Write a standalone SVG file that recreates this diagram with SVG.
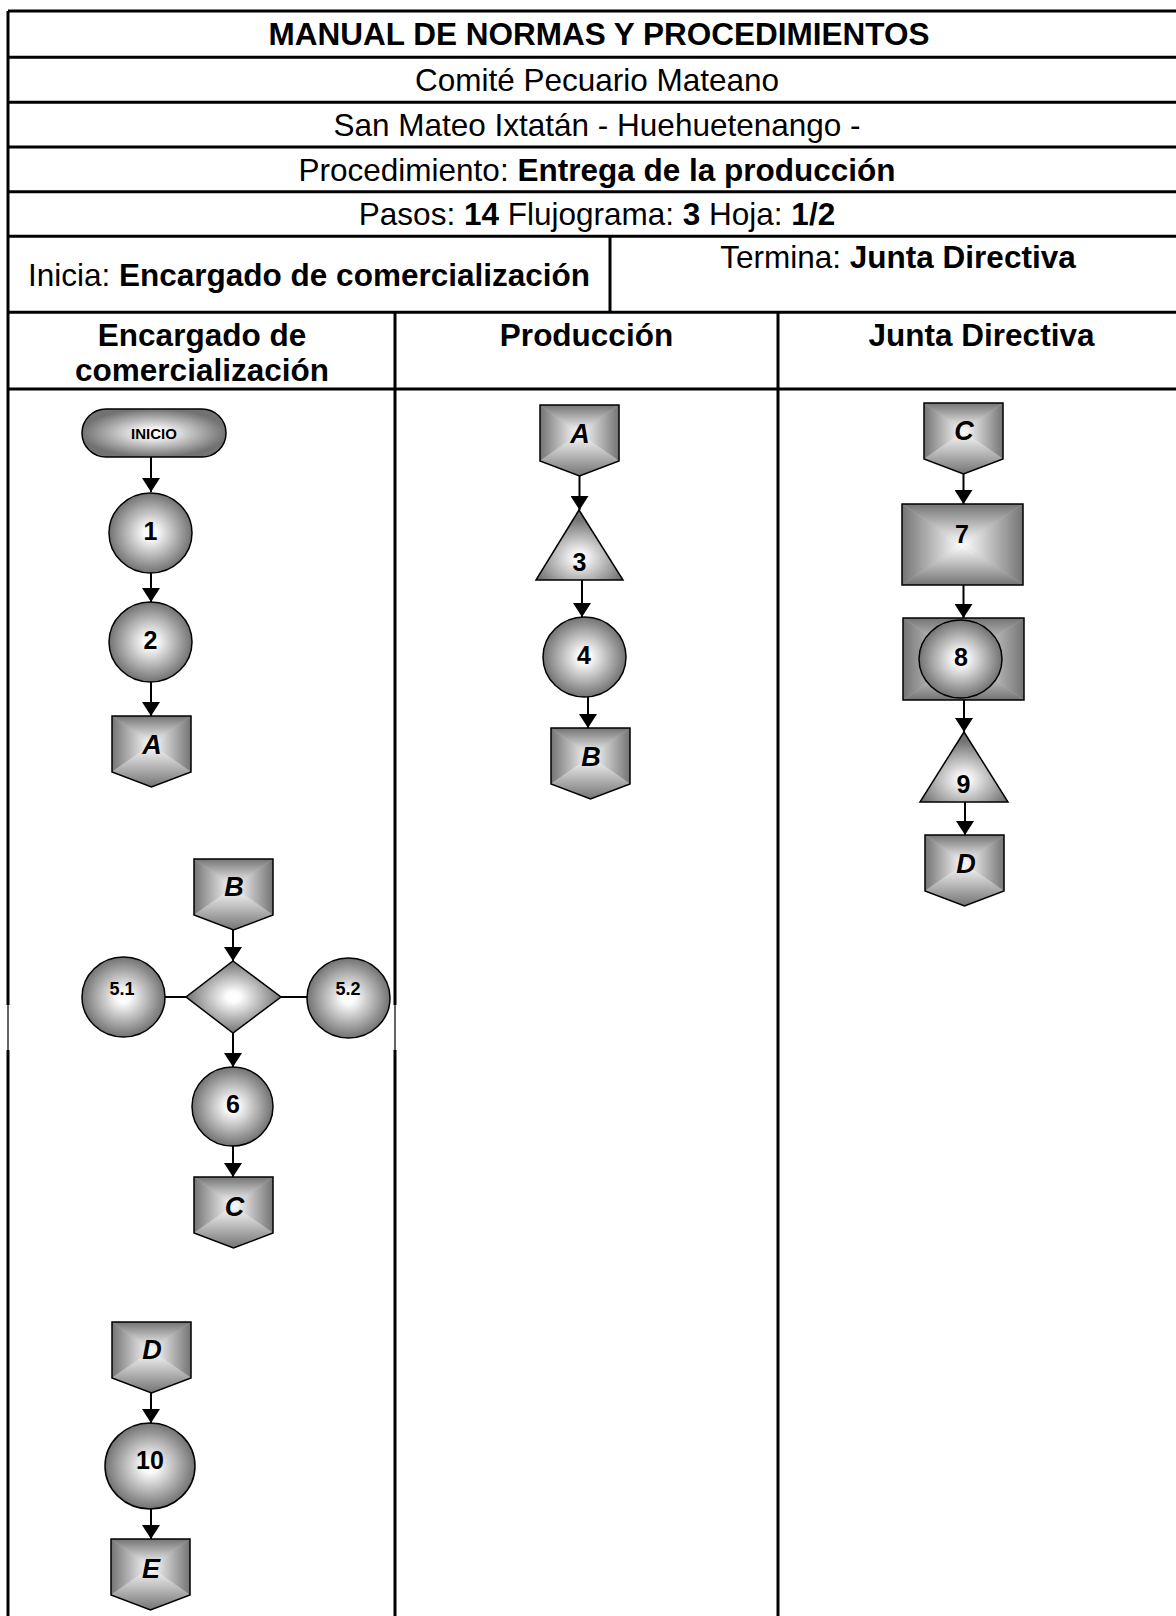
<svg xmlns="http://www.w3.org/2000/svg" xmlns:xlink="http://www.w3.org/1999/xlink" width="1176" height="1616" viewBox="0 0 1176 1616">
<style>
.t{font-family:"Liberation Sans",Arial,sans-serif;fill:#000}
.h{font-size:31.5px;text-anchor:middle}
.b{font-weight:bold}
.n{font-size:25px;font-weight:bold;text-anchor:middle}
.s{font-size:18px;font-weight:bold;text-anchor:middle}
.i{font-size:15px;font-weight:bold;text-anchor:middle}
.l{font-size:27px;font-weight:bold;font-style:italic;text-anchor:middle}
.grid{stroke:#000;stroke-width:3;fill:none}
.ol{stroke:#000;stroke-width:1.5}
.con{stroke:#000;stroke-width:2;fill:none}
</style>
<defs>
<radialGradient id="gc" cx="50%" cy="50%" r="50%"><stop offset="0" stop-color="#ffffff"/><stop offset="0.15" stop-color="#fcfcfc"/><stop offset="1" stop-color="#727272"/></radialGradient>
<radialGradient id="gtri" cx="50%" cy="68%" r="55%"><stop offset="0" stop-color="#ffffff"/><stop offset="0.1" stop-color="#fcfcfc"/><stop offset="1" stop-color="#727272"/></radialGradient>
<linearGradient id="gT" x1="0" y1="0" x2="0" y2="1"><stop offset="0" stop-color="#747474"/><stop offset="1" stop-color="#ffffff"/></linearGradient>
<linearGradient id="gB" x1="0" y1="0" x2="0" y2="1"><stop offset="0" stop-color="#ffffff"/><stop offset="1" stop-color="#747474"/></linearGradient>
<linearGradient id="gL" x1="0" y1="0" x2="1" y2="0"><stop offset="0" stop-color="#747474"/><stop offset="1" stop-color="#ffffff"/></linearGradient>
<linearGradient id="gR" x1="0" y1="0" x2="1" y2="0"><stop offset="0" stop-color="#ffffff"/><stop offset="1" stop-color="#747474"/></linearGradient>
<marker id="ah" markerUnits="userSpaceOnUse" markerWidth="14" markerHeight="18" refX="14" refY="9" orient="auto" viewBox="0 0 14 18"><path d="M0,0L14,9L0,18Z" fill="#000"/></marker>
<g id="pent">
<path d="M0,0H79V56L39.5,71L0,56Z" fill="#b8b8b8"/>
<polygon points="0,0 79,0 39.5,28" fill="url(#gT)"/>
<polygon points="0,0 0,56 39.5,28" fill="url(#gL)"/>
<polygon points="79,0 79,56 39.5,28" fill="url(#gR)"/>
<polygon points="0,56 39.5,71 79,56 39.5,28" fill="url(#gB)"/>
<path d="M0,0H79V56L39.5,71L0,56Z" fill="none" class="ol"/>
</g>
</defs>
<rect x="0" y="0" width="1176" height="1616" fill="#fff"/>

<g id="table">
<path class="grid" d="M8,11H1180M8,57.3H1180M8,102.3H1180M8,147H1180M8,191.7H1180M8,236.3H1180M8,312.3H1180M8,389H1180"/>
<path class="grid" d="M8,11V1005M8,1050V1616M610,236.3V312.3M395,312.3V1005M395,1050V1616M778,312.3V1616"/>
<path d="M8,1005V1050M395,1005V1050" stroke="#000" stroke-width="1.2"/>
<text class="t h b" x="599" y="45">MANUAL DE NORMAS Y PROCEDIMIENTOS</text>
<text class="t h" x="597" y="90.5">Comité Pecuario Mateano</text>
<text class="t h" x="597" y="135.5">San Mateo Ixtatán - Huehuetenango -</text>
<text class="t h" x="597" y="180.5">Procedimiento: <tspan class="b">Entrega de la producción</tspan></text>
<text class="t h" x="597" y="225">Pasos: <tspan class="b">14</tspan> Flujograma: <tspan class="b">3</tspan> Hoja: <tspan class="b">1/2</tspan></text>
<text class="t h" x="309" y="285.5">Inicia: <tspan class="b">Encargado de comercialización</tspan></text>
<text class="t h" x="898" y="267.5">Termina: <tspan class="b">Junta Directiva</tspan></text>
<text class="t h b" x="202" y="345.5">Encargado de</text>
<text class="t h b" x="202" y="380.5">comercialización</text>
<text class="t h b" x="586.5" y="345.5">Producción</text>
<text class="t h b" x="981.5" y="345.5">Junta Directiva</text>
</g>

<g id="connectors">
<path class="con" marker-end="url(#ah)" d="M151,457V492"/>
<path class="con" marker-end="url(#ah)" d="M151,573V602"/>
<path class="con" marker-end="url(#ah)" d="M151,682V716"/>
<path class="con" marker-end="url(#ah)" d="M233,929V961"/>
<path class="con" marker-end="url(#ah)" d="M233,1033V1067"/>
<path class="con" marker-end="url(#ah)" d="M233,1146V1177"/>
<path class="con" marker-end="url(#ah)" d="M151,1392V1423"/>
<path class="con" marker-end="url(#ah)" d="M151,1509V1539"/>
<path class="con" d="M165,997H186M281,997H307"/>
<path class="con" marker-end="url(#ah)" d="M579.5,475V510"/>
<path class="con" marker-end="url(#ah)" d="M582,580V617"/>
<path class="con" marker-end="url(#ah)" d="M588,697V728"/>
<path class="con" marker-end="url(#ah)" d="M963.5,472V504"/>
<path class="con" marker-end="url(#ah)" d="M963.5,585V618"/>
<path class="con" marker-end="url(#ah)" d="M964,700V732"/>
<path class="con" marker-end="url(#ah)" d="M965,802V835"/>
</g>

<g id="inicio">
<rect x="82" y="409" width="144" height="48" rx="24" fill="url(#gc)" class="ol"/>
<text class="t i" x="154" y="439">INICIO</text>
</g>
<g id="n1">
<ellipse cx="150.5" cy="533" rx="41.5" ry="40" fill="url(#gc)" class="ol"/>
<text class="t n" x="150.5" y="539.5">1</text>
</g>
<g id="n2">
<ellipse cx="150.5" cy="642" rx="41.5" ry="40" fill="url(#gc)" class="ol"/>
<text class="t n" x="150.5" y="648.5">2</text>
</g>
<g id="conA1">
<use xlink:href="#pent" href="#pent" x="112" y="716"/>
<text class="t l" x="152" y="754">A</text>
</g>
<g id="conB1">
<use xlink:href="#pent" href="#pent" x="194" y="859"/>
<text class="t l" x="234" y="896">B</text>
</g>
<g id="decision">
<polygon points="233,961 281,997 233,1033 186,997" fill="url(#gc)" class="ol"/>
</g>
<g id="n51">
<ellipse cx="123.5" cy="997" rx="41.5" ry="40" fill="url(#gc)" class="ol"/>
<text class="t s" x="122" y="994.5">5.1</text>
</g>
<g id="n52">
<ellipse cx="348.5" cy="998" rx="41.5" ry="40" fill="url(#gc)" class="ol"/>
<text class="t s" x="348" y="994.5">5.2</text>
</g>
<g id="n6">
<ellipse cx="232.5" cy="1106.5" rx="40.5" ry="39.5" fill="url(#gc)" class="ol"/>
<text class="t n" x="233" y="1113">6</text>
</g>
<g id="conC1">
<use xlink:href="#pent" href="#pent" x="194" y="1177"/>
<text class="t l" x="234.5" y="1215.5">C</text>
</g>
<g id="conD1">
<use xlink:href="#pent" href="#pent" x="112" y="1322"/>
<text class="t l" x="152" y="1359">D</text>
</g>
<g id="n10">
<ellipse cx="150" cy="1466" rx="45" ry="43" fill="url(#gc)" class="ol"/>
<text class="t n" x="150" y="1469">10</text>
</g>
<g id="conE1">
<use xlink:href="#pent" href="#pent" x="111" y="1539"/>
<text class="t l" x="151" y="1577.5">E</text>
</g>

<g id="conA2">
<use xlink:href="#pent" href="#pent" x="540" y="405"/>
<text class="t l" x="580" y="443">A</text>
</g>
<g id="n3">
<polygon points="579,510 623,580 536,580" fill="url(#gtri)" class="ol"/>
<text class="t n" x="579.5" y="571">3</text>
</g>
<g id="n4">
<ellipse cx="584.5" cy="657" rx="41.5" ry="40" fill="url(#gc)" class="ol"/>
<text class="t n" x="584" y="664">4</text>
</g>
<g id="conB2">
<use xlink:href="#pent" href="#pent" x="551" y="728"/>
<text class="t l" x="591" y="766">B</text>
</g>

<g id="conC3">
<use xlink:href="#pent" href="#pent" x="924" y="403"/>
<text class="t l" x="964" y="440">C</text>
</g>
<g id="n7">
<rect x="902" y="504" width="121" height="81" fill="#b8b8b8"/>
<polygon points="902,504 1023,504 962.5,544.5" fill="url(#gT)"/>
<polygon points="902,504 902,585 962.5,544.5" fill="url(#gL)"/>
<polygon points="1023,504 1023,585 962.5,544.5" fill="url(#gR)"/>
<polygon points="902,585 1023,585 962.5,544.5" fill="url(#gB)"/>
<rect x="902" y="504" width="121" height="81" fill="none" class="ol"/>
<text class="t n" x="962" y="543">7</text>
</g>
<g id="n8">
<rect x="903" y="618" width="121" height="82" fill="#b8b8b8"/>
<polygon points="903,618 1024,618 963.5,659" fill="url(#gT)"/>
<polygon points="903,618 903,700 963.5,659" fill="url(#gL)"/>
<polygon points="1024,618 1024,700 963.5,659" fill="url(#gR)"/>
<polygon points="903,700 1024,700 963.5,659" fill="url(#gB)"/>
<rect x="903" y="618" width="121" height="82" fill="none" class="ol"/>
<ellipse cx="960.5" cy="659" rx="41.5" ry="39" fill="url(#gc)" class="ol"/>
<text class="t n" x="961" y="666">8</text>
</g>
<g id="n9">
<polygon points="964,732 1008,802 920,802" fill="url(#gtri)" class="ol"/>
<text class="t n" x="963.5" y="793">9</text>
</g>
<g id="conD3">
<use xlink:href="#pent" href="#pent" x="925" y="835"/>
<text class="t l" x="966" y="873">D</text>
</g>
</svg>
